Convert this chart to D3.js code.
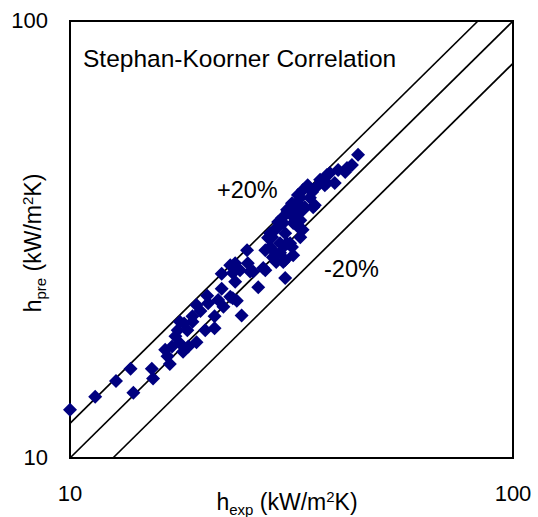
<html>
<head>
    <style>
        body {margin:0; background:white;}
        text {font-family: "Liberation Sans", Arial, sans-serif; fill:black;}
    </style>
    <script src="https://d3js.org/d3.v7.min.js"></script>
</head>
<body>
    <script>
        //Measured heat transfer coefficient, kW/m2K
        var hExp = [10.0, 11.4, 12.7, 13.7, 13.9, 15.3, 15.4, 16.4, 16.6, 16.8,
                    17.0, 17.3, 17.5, 17.7, 18.0, 18.1, 18.4, 18.5, 18.9, 19.3,
                    19.3, 18.9, 19.7, 20.2, 20.5, 20.4, 21.2, 21.2, 21.6, 22.0,
                    22.2, 23.0, 23.3, 23.8, 24.4, 23.6, 22.0, 23.6, 24.2, 25.1,
                    25.2, 25.9, 26.6, 27.6, 28.7, 29.8, 28.6, 29.3, 30.6, 31.9,
                    31.4, 30.6, 30.6, 31.7, 33.6, 33.1, 17.7, 23.0, 23.3, 25.5,
                    28.3, 28.7, 30.3, 31.4, 28.0, 29.0, 30.1, 31.0, 32.2, 32.5,
                    32.7, 30.9, 31.7, 29.8, 28.3, 29.2, 31.9, 33.5, 33.1, 33.6,
                    34.4, 35.2, 36.3, 36.7, 38.0, 38.6, 40.3, 41.8, 42.2, 43.3,
                    44.7, 34.8, 33.9, 35.7, 33.1, 37.6, 32.7, 30.9, 31.9, 30.3,
                    38.0, 39.6, 35.4, 27.3, 29.5, 32.2, 30.6, 27.6, 33.1];
        //Predicted heat transfer coefficient, kW/m2K
        var hPre = [12.9, 13.8, 15.0, 16.0, 14.1, 16.0, 15.2, 17.7, 17.1, 16.4,
                    18.0, 19.0, 19.6, 18.3, 17.5, 20.3, 19.6, 18.0, 20.5, 18.4,
                    22.4, 21.1, 21.7, 19.6, 22.6, 23.5, 19.8, 21.1, 23.0, 24.4,
                    22.2, 23.4, 23.2, 22.9, 21.2, 25.3, 26.4, 27.9, 26.9, 29.9,
                    27.9, 26.7, 24.6, 26.9, 29.9, 31.0, 32.0, 33.6, 32.7, 34.5,
                    31.0, 28.4, 25.8, 38.3, 37.0, 35.0, 20.5, 27.6, 26.5, 26.7,
                    32.7, 28.8, 28.1, 37.5, 31.9, 33.3, 35.4, 36.6, 37.9, 36.0,
                    33.8, 31.0, 30.4, 29.5, 30.4, 28.1, 29.1, 33.3, 32.0, 41.1,
                    42.1, 40.6, 42.1, 43.3, 44.4, 44.9, 45.6, 45.1, 46.1, 46.8,
                    49.4, 39.4, 37.5, 37.9, 39.4, 42.1, 40.0, 37.0, 35.6, 34.5,
                    42.6, 42.6, 37.5, 27.2, 34.7, 36.4, 30.7, 29.9, 37.9];

        //Reference lines: perfect agreement and +/-20 %
        var refFactors = [1.2, 1.0, 0.8];
        var refLabels = ["+20%", "-20%"];

        var axisTicks = [10, 100];
        var chartTitle = "Stephan-Koorner Correlation";

        var svg_width = 538;
        var svg_height = 517;

        //plot box edges (note: "top" is reserved on window)
        var pLeft = 70, pRight = 513, pTop = 21, pBottom = 458;

        var x = d3.scaleLog().domain([10, 100]).range([pLeft, pRight]);
        var y = d3.scaleLog().domain([10, 100]).range([pBottom, pTop]);

        var svg = d3.select("body").append("svg")
            .attr("width", svg_width)
            .attr("height", svg_height);

        //~~~~~~~~~~~~~~~~~~~~~~~~~~~~~~~~~~~~~~~~~~~~~~~~
        //Reference lines, clipped to the 10..100 box
        //~~~~~~~~~~~~~~~~~~~~~~~~~~~~~~~~~~~~~~~~~~~~~~~~
        svg.append("g")
            .attr("stroke", "black")
            .attr("stroke-width", 1.7)
            .selectAll("line")
            .data(refFactors)
            .join("line")
                .attr("x1", f => x(Math.max(10, 10 / f)))
                .attr("y1", f => y(Math.max(10, 10 / f) * f))
                .attr("x2", f => x(Math.min(100, 100 / f)))
                .attr("y2", f => y(Math.min(100, 100 / f) * f));

        //Plot box
        svg.append("rect")
            .attr("x", pLeft)
            .attr("y", pTop)
            .attr("width", pRight - pLeft)
            .attr("height", pBottom - pTop)
            .attr("fill", "none")
            .attr("stroke", "black")
            .attr("stroke-width", 2);

        //~~~~~~~~~~~~~~~~~~~~~~~~~~~~~~~~~~~~~~~~~~~~~~~~
        //Data points as navy diamonds
        //~~~~~~~~~~~~~~~~~~~~~~~~~~~~~~~~~~~~~~~~~~~~~~~~
        var r = 7;
        svg.append("g")
            .attr("fill", "#000080")
            .selectAll("path")
            .data(hExp.map((d, i) => [d, hPre[i]]))
            .join("path")
                .attr("transform", d => `translate(${x(d[0])},${y(d[1])})`)
                .attr("d", `M0,${-r}L${r},0L0,${r}L${-r},0Z`);

        //Tick labels
        svg.append("g")
            .selectAll("text")
            .data(axisTicks)
            .join("text")
                .attr("x", d => x(d))
                .attr("y", 501)
                .attr("text-anchor", "middle")
                .style("font-size", "22px")
                .text(d => d);

        svg.append("g")
            .selectAll("text")
            .data(axisTicks)
            .join("text")
                .attr("x", 48)
                .attr("y", d => y(d))
                .attr("dy", "0.32em")
                .attr("text-anchor", "end")
                .style("font-size", "22px")
                .text(d => d);

        //Chart annotations
        svg.append("text")
            .attr("x", 83)
            .attr("y", 67)
            .style("font-size", "24.5px")
            .text(chartTitle);

        svg.append("text")
            .attr("x", 217)
            .attr("y", 198)
            .style("font-size", "23.5px")
            .text(refLabels[0]);

        svg.append("text")
            .attr("x", 324)
            .attr("y", 277)
            .style("font-size", "23.5px")
            .text(refLabels[1]);

        //Axis titles with sub/superscripts
        function axisTitle(g, sub) {
            g.append("tspan").text("h");
            g.append("tspan").attr("dy", 5).style("font-size", "15px").text(sub);
            g.append("tspan").attr("dy", -5).text(" (kW/m");
            g.append("tspan").attr("dy", -8).style("font-size", "15px").text("2");
            g.append("tspan").attr("dy", 8).text("K)");
        }

        svg.append("text")
            .attr("x", 287)
            .attr("y", 510)
            .attr("text-anchor", "middle")
            .style("font-size", "23px")
            .call(axisTitle, "exp");

        svg.append("text")
            .attr("transform", "translate(41,243) rotate(-90)")
            .attr("text-anchor", "middle")
            .style("font-size", "23px")
            .call(axisTitle, "pre");
    </script>
</body>
</html>
